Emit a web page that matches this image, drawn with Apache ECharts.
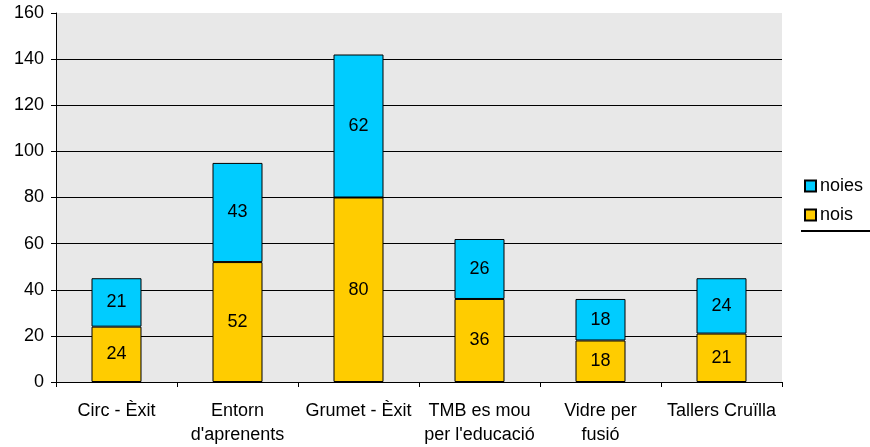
<!DOCTYPE html>
<html><head><meta charset="utf-8">
<script src="https://cdn.jsdelivr.net/npm/echarts@6/dist/echarts.min.js"></script>
<style>html,body{margin:0;padding:0;background:#fff}#c{width:870px;height:447px}</style>
</head><body><div id="c"></div>
<script>
const categories = ['Circ - Èxit', "Entorn\nd'aprenents", 'Grumet - Èxit', "TMB es mou\nper l'educació", 'Vidre per\nfusió', 'Tallers Cruïlla'];
const nois = [24, 52, 80, 36, 18, 21];
const noies = [21, 43, 62, 26, 18, 24];
const yTicks = {min: 0, max: 160, interval: 20};

const chart = echarts.init(document.getElementById('c'));
const font = 'Liberation Sans, Arial, sans-serif';
chart.setOption({
  animation: false,
  backgroundColor: '#fff',
  textStyle: {fontFamily: font},
  grid: {left: 56, right: 88, top: 13, bottom: 64, show: true, backgroundColor: '#e8e8e8', borderWidth: 0},
  legend: {
    data: [{name: 'noies', icon: 'rect'}, {name: 'nois', icon: 'rect'}], orient: 'vertical', left: 799, top: 172, itemWidth: 11, itemHeight: 11, itemGap: 11,
    textStyle: {fontSize: 18, color: '#000', fontFamily: font, padding: [0, 0, 0, -1]}
  },
  graphic: [{type: 'line', shape: {x1: 801, y1: 231, x2: 870, y2: 231}, style: {stroke: '#000', lineWidth: 2}}],
  xAxis: {
    type: 'category', data: categories,
    axisLine: {lineStyle: {color: '#000', width: 1}},
    axisTick: {show: true, length: 5, lineStyle: {color: '#000'}},
    axisLabel: {color: '#000', fontSize: 18, lineHeight: 24, margin: 17, interval: 0, fontFamily: font}
  },
  yAxis: {
    type: 'value', min: yTicks.min, max: yTicks.max, interval: yTicks.interval,
    axisLine: {show: true, lineStyle: {color: '#000', width: 1}},
    axisTick: {show: true, length: 5, lineStyle: {color: '#000'}},
    axisLabel: {color: '#000', fontSize: 18, margin: 12, fontFamily: font},
    splitLine: {show: true, lineStyle: {color: ['#000','#000','#000','#000','#000','#000','#000','#000','rgba(0,0,0,0)'], width: 1}}
  },
  series: [
    {name: 'nois', type: 'bar', stack: 't', data: nois, barWidth: 50,
     itemStyle: {color: '#ffcc00', borderColor: '#000', borderWidth: 1},
     label: {show: true, position: 'inside', color: '#000', fontSize: 18, fontFamily: font}},
    {name: 'noies', type: 'bar', stack: 't', data: noies, barWidth: 50,
     itemStyle: {color: '#00ccff', borderColor: '#000', borderWidth: 1},
     label: {show: true, position: 'inside', color: '#000', fontSize: 18, fontFamily: font}}
  ]
});
</script></body></html>
